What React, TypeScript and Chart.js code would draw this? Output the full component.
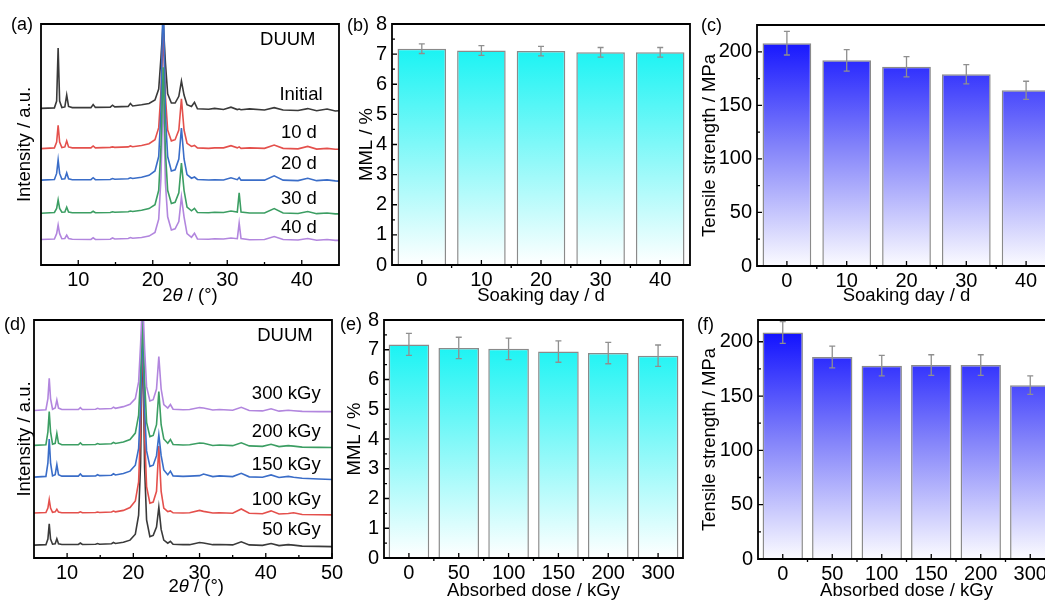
import React, { useEffect, useRef } from "react";
import { Chart, registerables } from "chart.js";

Chart.register(...registerables);

const FONT = '"Liberation Sans", Arial, Helvetica, sans-serif';

// ---------- Panel (a): XRD vs soaking time ----------
const soakTheta = [5, 6.8, 7.1, 7.3, 7.5, 7.8, 8.2, 8.45, 8.7, 9.2, 11.7, 12.0, 12.3, 14.3, 14.6, 14.9, 16.7, 17.0, 17.3, 18.5, 19.5, 20.3, 20.8, 21.1, 21.4, 21.7, 22.0, 22.5, 23.0, 23.5, 23.85, 24.2, 24.6, 25.2, 25.6, 26.0, 27.5, 28.3, 29.5, 30.5, 31.35, 31.6, 31.85, 33.0, 35.0, 36.3, 37.5, 39.5, 40.8, 42.0, 43.4, 44.5, 45];
const xrdInitial = [65.0, 65.2, 68, 90, 68, 65.3, 65.6, 70.5, 65.8, 65.3, 65.3, 66.6, 65.4, 65.5, 66.3, 65.6, 65.8, 67.0, 66.0, 66.5, 67.0, 68.5, 73, 86, 101, 84, 71, 67.2, 67.2, 70, 76.3, 70.5, 66.5, 65.8, 67.5, 64.8, 64.6, 65.0, 64.5, 65.5, 64.5, 64.7, 64.4, 64.8, 64.3, 65.3, 64.3, 64.1, 64.9, 64.0, 64.7, 63.9, 64.0];
const xrd10d = [48.3, 48.6, 51, 58, 51, 48.7, 49, 51.5, 49, 48.6, 48.6, 49.4, 48.6, 48.8, 49.0, 48.8, 49.0, 49.4, 49.1, 49.6, 50.3, 52, 57, 72, 96, 70, 56, 51.5, 52, 56, 69, 56, 50.5, 49.2, 49.6, 48.6, 48.4, 48.6, 48.6, 49.5, 48.6, 49.0, 48.4, 48.6, 48.4, 49.8, 48.4, 48.2, 49.2, 48.1, 48.4, 48.0, 48.0];
const xrd20d = [35.2, 35.5, 38, 43.6, 38, 35.6, 35.8, 38.2, 35.8, 35.4, 35.4, 36.2, 35.4, 35.5, 35.9, 35.6, 35.8, 36.2, 35.9, 36.4, 37.2, 39, 45, 64, 115, 62, 45, 39, 39.5, 44, 56.8, 44, 37.5, 36, 36.5, 35.5, 35.3, 35.4, 35.3, 36.2, 35.4, 36.3, 35.2, 35.3, 35.2, 37.0, 35.2, 35.0, 36.0, 35.0, 35.3, 34.9, 34.8];
const xrd30d = [21.5, 21.8, 23.5, 27, 23.5, 21.9, 22, 24, 22, 21.7, 21.7, 22.3, 21.7, 21.8, 22.1, 21.9, 22.1, 22.4, 22.2, 22.7, 23.4, 25, 31, 49, 82, 47, 31, 25.5, 26, 30, 42.3, 31, 24, 22.5, 23.5, 21.8, 21.7, 21.9, 21.8, 22.4, 22.0, 29.9, 22.0, 21.6, 21.6, 23.4, 21.6, 21.4, 22.2, 21.3, 21.6, 21.2, 21.2];
const xrd40d = [10.6, 10.8, 13, 16.6, 13, 10.9, 11, 12.4, 11, 10.7, 10.6, 11.3, 10.6, 10.7, 11.2, 10.8, 11.0, 11.4, 11.1, 11.4, 12, 13.5, 19, 36, 72, 34, 20, 14.5, 15, 18, 28.2, 20, 13, 11.5, 13.2, 10.8, 10.7, 10.9, 10.8, 11.2, 10.9, 17.4, 11.0, 10.5, 10.6, 11.8, 10.6, 10.4, 11.0, 10.3, 10.6, 10.2, 10.2];
const soakSeriesLabels = ["Initial", "10 d", "20 d", "30 d", "40 d"];

// ---------- Panel (d): XRD vs absorbed dose ----------
const doseTheta = [5, 6.8, 7.1, 7.3, 7.5, 7.8, 8.2, 8.45, 8.7, 9.2, 11.7, 12.0, 12.3, 14.3, 14.6, 14.9, 16.7, 17.0, 17.3, 18.5, 19.5, 20.3, 20.8, 21.1, 21.4, 21.7, 22.0, 22.5, 23.0, 23.5, 23.85, 24.2, 24.6, 25.2, 25.6, 26.0, 27.5, 28.5, 30.0, 30.6, 32.0, 33.0, 35.0, 36.3, 37.5, 39.5, 40.8, 42.0, 43.4, 44.2, 45.5, 48, 50];
const xrd50k = [5.4, 5.6, 8, 14.4, 8, 5.8, 6, 8.1, 6, 5.7, 5.7, 6.3, 5.7, 5.8, 6.1, 5.8, 6.0, 6.5, 6.1, 6.6, 7.5, 10, 18, 40, 100, 38, 16, 9, 9.5, 13, 21.4, 12, 7.5, 6.2, 7.0, 5.8, 5.6, 5.6, 6.5, 6.3, 5.6, 5.7, 5.5, 6.8, 5.5, 5.3, 6.1, 5.2, 5.6, 5.4, 5.0, 4.9, 4.8];
const xrd100k = [18.9, 19.1, 21, 24.5, 21, 19.2, 19.4, 20.5, 19.3, 19.0, 19.0, 19.4, 19.0, 19.1, 19.3, 19.1, 19.3, 19.7, 19.4, 20.0, 21.2, 24, 32, 55, 100, 52, 30, 23, 23.5, 28, 47, 28, 21, 19.5, 19.8, 19.0, 18.9, 19.0, 20.0, 19.6, 18.9, 19.0, 18.8, 20.6, 18.8, 18.6, 19.8, 18.5, 18.7, 19.0, 18.3, 18.2, 18.1];
const xrd150k = [34.0, 34.3, 40, 50, 40, 34.5, 35, 39.2, 35, 34.4, 34.4, 35.3, 34.4, 34.5, 35.0, 34.6, 34.8, 35.4, 34.9, 35.5, 36.5, 39, 46, 65, 100, 62, 45, 38.5, 39, 43, 51.7, 43, 37, 35, 36.5, 34.5, 34.3, 34.4, 34.6, 35.3, 34.2, 34.5, 34.2, 35.6, 34.1, 33.9, 34.9, 33.8, 34.3, 33.9, 33.5, 33.2, 33.0];
const xrd200k = [47.3, 47.6, 53, 61.5, 53, 47.8, 48.2, 52.4, 48.2, 47.6, 47.6, 48.4, 47.6, 47.7, 48.1, 47.8, 48.0, 48.6, 48.1, 48.7, 49.8, 52.5, 60, 78, 100, 75, 57, 51, 51.5, 56, 69.9, 56, 50, 48.2, 49.8, 47.7, 47.5, 47.6, 48.3, 48.2, 47.3, 47.5, 47.2, 48.4, 47.1, 46.9, 47.8, 46.8, 47.2, 47.0, 46.6, 46.5, 46.4];
const xrd300k = [62.0, 62.3, 67, 75.5, 67, 62.5, 63, 66.4, 63, 62.4, 62.4, 63.2, 62.4, 62.5, 62.9, 62.6, 62.8, 63.4, 62.9, 63.6, 64.6, 67, 74, 90, 110, 88, 72, 66, 66.5, 71, 84.6, 71, 64.5, 63, 64.5, 62.5, 62.3, 62.4, 63.2, 63.0, 62.2, 62.4, 62.1, 63.3, 62.0, 61.8, 62.7, 61.7, 62.1, 61.9, 61.6, 61.5, 61.5];
const doseSeriesLabels = ["50 kGy", "100 kGy", "150 kGy", "200 kGy", "300 kGy"];

// ---------- Panels (b),(c): soaking day ----------
const soakDays = ["0", "10", "20", "30", "40"];
const mmlSoak = [7.18, 7.12, 7.1, 7.06, 7.06];
const mmlSoakErr = [0.16, 0.16, 0.16, 0.16, 0.16];
const tsSoak = [208, 192, 186, 179, 164];
const tsSoakErr = [11, 10, 9.5, 9, 8.5];

// ---------- Panels (e),(f): absorbed dose ----------
const doses = ["0", "50", "100", "150", "200", "300"];
const mmlDose = [7.18, 7.06, 7.03, 6.94, 6.89, 6.8];
const mmlDoseErr = [0.37, 0.36, 0.36, 0.36, 0.36, 0.36];
const tsDose = [208.5, 186, 178, 178.5, 178.5, 160];
const tsDoseErr = [10, 10, 9.5, 9.5, 9.5, 8.5];

const COL = {
  black: "#3a3a3a",
  red: "#e4504c",
  blue: "#3a6dc8",
  green: "#3c9e63",
  purple: "#b286de",
};

const decorPlugin = {
  id: "decor",
  afterDatasetsDraw(chart: any, _a: any, o: any) {
    if (!o || !o.errors) return;
    const ctx = chart.ctx;
    const ys = chart.scales.y;
    const vals = chart.data.datasets[0].data as number[];
    const meta = chart.getDatasetMeta(0);
    ctx.save();
    ctx.strokeStyle = "#8f8f8f";
    ctx.lineWidth = 1.3;
    meta.data.forEach((el: any, i: number) => {
      const x = el.x;
      const yh = ys.getPixelForValue(vals[i] + o.errors[i]);
      const yl = ys.getPixelForValue(vals[i] - o.errors[i]);
      ctx.beginPath();
      ctx.moveTo(x, yl);
      ctx.lineTo(x, yh);
      ctx.moveTo(x - 3, yh);
      ctx.lineTo(x + 3, yh);
      ctx.moveTo(x - 3, yl);
      ctx.lineTo(x + 3, yl);
      ctx.stroke();
    });
    ctx.restore();
  },
  afterDraw(chart: any, _a: any, o: any) {
    if (!o || !o.frame) return;
    const { ctx, chartArea: a, scales } = chart;
    const xs = scales.x;
    const ys = scales.y;
    ctx.save();
    ctx.strokeStyle = "#000";
    ctx.lineWidth = 1.8;
    ctx.beginPath();
    ctx.moveTo(a.left, a.bottom);
    ctx.lineTo(a.left, a.top);
    ctx.lineTo(a.right, a.top);
    ctx.lineTo(a.right, a.bottom);
    ctx.closePath();
    ctx.stroke();
    ctx.lineWidth = 1.3;
    ctx.beginPath();
    (o.xMajor || []).forEach((v: number) => {
      const p = xs.getPixelForValue(v);
      ctx.moveTo(p, a.bottom);
      ctx.lineTo(p, a.bottom - 5);
    });
    (o.xMinor || []).forEach((v: number) => {
      const p = xs.getPixelForValue(v);
      ctx.moveTo(p, a.bottom);
      ctx.lineTo(p, a.bottom + (o.xMinorOut ? 3 : -3));
    });
    (o.yMajor || []).forEach((v: number) => {
      const p = ys.getPixelForValue(v);
      ctx.moveTo(a.left, p);
      ctx.lineTo(a.left + 5, p);
    });
    (o.yMinor || []).forEach((v: number) => {
      const p = ys.getPixelForValue(v);
      ctx.moveTo(a.left, p);
      ctx.lineTo(a.left + 3, p);
    });
    ctx.stroke();

    ctx.fillStyle = "#000";
    ctx.textBaseline = "middle";
    (o.texts || []).forEach((t: any) => {
      ctx.font = `${t.size || 18.5}px ${FONT}`;
      ctx.textAlign = t.align || "left";
      ctx.fillText(t.text, xs.getPixelForValue(t.x), ys.getPixelForValue(t.y));
    });
    if (o.panel) {
      ctx.font = `18px ${FONT}`;
      ctx.textAlign = "left";
      ctx.fillText(o.panel.text, o.panel.x, o.panel.y);
    }
    if (o.theta) {
      const parts: [string, boolean][] = [["2", false], ["θ", true], [" / (°)", false]];
      const fs = 18.5;
      let total = 0;
      const widths = parts.map(([s, it]) => {
        ctx.font = `${it ? "italic " : ""}${fs}px ${FONT}`;
        const w = ctx.measureText(s).width;
        total += w;
        return w;
      });
      let x = xs.getPixelForValue(o.theta.x) - total / 2;
      ctx.textAlign = "left";
      parts.forEach(([s, it], i) => {
        ctx.font = `${it ? "italic " : ""}${fs}px ${FONT}`;
        ctx.fillText(s, x, o.theta.y);
        x += widths[i];
      });
    }
    ctx.restore();
  },
};
Chart.register(decorPlugin);

const tickFont = { family: FONT, size: 20 };
const titleFont = { family: FONT, size: 18.5 };

function xrdConfig(p: any) {
  return {
    type: "line",
    data: {
      datasets: p.series.map((s: any) => ({
        data: p.xs.map((x: number, i: number) => ({ x, y: s.data[i] })),
        borderColor: s.color,
        borderWidth: 1.6,
        pointRadius: 0,
        tension: 0,
        fill: false,
        order: s.order,
      })),
    },
    options: {
      responsive: false,
      animation: false,
      events: [],
      layout: { padding: { top: p.padTop, right: p.padRight, left: 0, bottom: 0 } },
      plugins: {
        legend: { display: false },
        tooltip: { enabled: false },
        decor: {
          frame: true,
          xMajor: p.xMajor,
          xMinor: p.xMinor,
          texts: p.texts,
          panel: p.panel,
          theta: p.theta,
        },
      },
      scales: {
        x: {
          type: "linear",
          min: 5,
          max: p.xMax,
          grid: { display: false, drawTicks: false },
          border: { display: false },
          afterBuildTicks: (s: any) => {
            s.ticks = p.xMajor.map((v: number) => ({ value: v }));
          },
          afterFit: (s: any) => {
            s.height = p.xH;
          },
          ticks: { font: tickFont, color: "#000", padding: 3, maxRotation: 0, autoSkip: false },
        },
        y: {
          type: "linear",
          min: 0,
          max: 100,
          grid: { display: false, drawTicks: false },
          border: { display: false },
          ticks: { display: false },
          afterFit: (s: any) => {
            s.width = p.yW;
          },
          title: {
            display: true,
            text: "Intensity / a.u.",
            font: titleFont,
            color: "#000",
            padding: { top: p.yTitlePad, bottom: 0 },
          },
        },
      },
    },
  };
}

function barConfig(p: any) {
  const n = p.labels.length;
  const boundaries: number[] = [];
  for (let i = 0; i < n - 1; i++) boundaries.push(i + 0.5);
  return {
    type: "bar",
    data: {
      labels: p.labels,
      datasets: [
        {
          data: p.values,
          backgroundColor: (c: any) => {
            const a = c.chart.chartArea;
            if (!a) return p.gTop;
            const g = c.chart.ctx.createLinearGradient(0, a.top, 0, a.bottom);
            g.addColorStop(0, p.gTop);
            g.addColorStop(0.5, p.gMid);
            g.addColorStop(1, p.gBottom);
            return g;
          },
          borderColor: "#8a8a8a",
          borderWidth: { left: 1.5, right: 1.5, top: 1.5, bottom: 0 },
          borderSkipped: "bottom",
          categoryPercentage: 1,
          barPercentage: 0.815,
        },
      ],
    },
    options: {
      responsive: false,
      animation: false,
      events: [],
      layout: { padding: { top: p.padTop, right: p.padRight, left: 0, bottom: 0 } },
      plugins: {
        legend: { display: false },
        tooltip: { enabled: false },
        decor: {
          frame: true,
          errors: p.errors,
          xMajor: p.labels.map((_: any, i: number) => i),
          xMinor: boundaries,
          xMinorOut: true,
          yMajor: p.yMajor,
          yMinor: p.yMinor,
          panel: p.panel,
        },
      },
      scales: {
        x: {
          type: "category",
          offset: true,
          grid: { display: false, drawTicks: false },
          border: { display: false },
          afterFit: (s: any) => {
            s.height = p.xH;
          },
          ticks: { font: tickFont, color: "#000", padding: 3, maxRotation: 0, autoSkip: false },
          title: {
            display: true,
            text: p.xTitle,
            font: titleFont,
            color: "#000",
            padding: { top: 0, bottom: p.xTitlePad },
          },
        },
        y: {
          type: "linear",
          min: 0,
          max: p.yMax,
          grid: { display: false, drawTicks: false },
          border: { display: false },
          afterBuildTicks: (s: any) => {
            s.ticks = p.yMajor.map((v: number) => ({ value: v }));
          },
          afterFit: (s: any) => {
            s.width = p.yW;
          },
          ticks: { font: tickFont, color: "#000", padding: 5 },
          title: {
            display: true,
            text: p.yTitle,
            font: titleFont,
            color: "#000",
            padding: { top: p.yTitlePad, bottom: 0 },
          },
        },
      },
    },
  };
}

const range = (a: number, b: number, s: number) => {
  const out: number[] = [];
  for (let v = a; v <= b + 1e-9; v += s) out.push(Math.round(v * 100) / 100);
  return out;
};

const panels = [
  {
    key: "a",
    left: 0,
    top: 0,
    width: 352,
    height: 310,
    config: () =>
      xrdConfig({
        xs: soakTheta,
        xMax: 45,
        xMajor: [10, 20, 30, 40],
        xMinor: [15, 25, 35],
        series: [
          { data: xrdInitial, color: COL.black, order: 3 },
          { data: xrd10d, color: COL.red, order: 2 },
          { data: xrd20d, color: COL.blue, order: 1 },
          { data: xrd30d, color: COL.green, order: 0 },
          { data: xrd40d, color: COL.purple, order: 4 },
        ],
        yW: 41,
        xH: 45,
        padTop: 24,
        padRight: 13,
        yTitlePad: 13.9,
        texts: [
          { text: "DUUM", x: 34.4, y: 93.4 },
          { text: soakSeriesLabels[0], x: 37, y: 70.5 },
          { text: soakSeriesLabels[1], x: 37.2, y: 55 },
          { text: soakSeriesLabels[2], x: 37.2, y: 41.8 },
          { text: soakSeriesLabels[3], x: 37.2, y: 27.3 },
          { text: soakSeriesLabels[4], x: 37.2, y: 15.4 },
        ],
        panel: { text: "(a)", x: 11, y: 25 },
        theta: { x: 25, y: 296 },
      }),
  },
  {
    key: "b",
    left: 342,
    top: 0,
    width: 352,
    height: 310,
    config: () =>
      barConfig({
        labels: soakDays,
        values: mmlSoak,
        errors: mmlSoakErr,
        gTop: "#00f2f2",
        gMid: "#7ff8f8",
        gBottom: "#ffffff",
        yMax: 8,
        yMajor: range(0, 8, 1),
        yMinor: range(0.5, 7.5, 1),
        yW: 50,
        xH: 45,
        padTop: 24,
        padRight: 4,
        yTitle: "MML / %",
        yTitlePad: 13.6,
        xTitle: "Soaking day / d",
        xTitlePad: 2.9,
        panel: { text: "(b)", x: 5, y: 26 },
      }),
  },
  {
    key: "c",
    left: 690,
    top: 0,
    width: 380,
    height: 310,
    config: () =>
      barConfig({
        labels: soakDays,
        values: tsSoak,
        errors: tsSoakErr,
        gTop: "#0505ff",
        gMid: "#8282fa",
        gBottom: "#fbfbff",
        yMax: 225,
        yMajor: [0, 50, 100, 150, 200],
        yMinor: [25, 75, 125, 175],
        yW: 67,
        xH: 44,
        padTop: 25,
        padRight: 14,
        yTitle: "Tensile strength / MPa",
        yTitlePad: 8.9,
        xTitle: "Soaking day / d",
        xTitlePad: 2.9,
        panel: { text: "(c)", x: 11, y: 26 },
      }),
  },
  {
    key: "d",
    left: 0,
    top: 298,
    width: 352,
    height: 305,
    config: () =>
      xrdConfig({
        xs: doseTheta,
        xMax: 50,
        xMajor: [10, 20, 30, 40, 50],
        xMinor: [15, 25, 35, 45],
        series: [
          { data: xrd50k, color: COL.black, order: 4 },
          { data: xrd100k, color: COL.red, order: 3 },
          { data: xrd150k, color: COL.blue, order: 2 },
          { data: xrd200k, color: COL.green, order: 1 },
          { data: xrd300k, color: COL.purple, order: 0 },
        ],
        yW: 34,
        xH: 45,
        padTop: 22,
        padRight: 20,
        yTitlePad: 13.9,
        texts: [
          { text: "DUUM", x: 38.7, y: 93.3 },
          { text: doseSeriesLabels[4], x: 48.3, y: 68.9, align: "right" },
          { text: doseSeriesLabels[3], x: 48.3, y: 53.1, align: "right" },
          { text: doseSeriesLabels[2], x: 48.3, y: 39.2, align: "right" },
          { text: doseSeriesLabels[1], x: 48.3, y: 24.5, align: "right" },
          { text: doseSeriesLabels[0], x: 48.3, y: 11.9, align: "right" },
        ],
        panel: { text: "(d)", x: 4, y: 27 },
        theta: { x: 29.5, y: 289 },
      }),
  },
  {
    key: "e",
    left: 340,
    top: 298,
    width: 350,
    height: 305,
    config: () =>
      barConfig({
        labels: doses,
        values: mmlDose,
        errors: mmlDoseErr,
        gTop: "#00f2f2",
        gMid: "#7ff8f8",
        gBottom: "#ffffff",
        yMax: 8,
        yMajor: range(0, 8, 1),
        yMinor: range(0.5, 7.5, 1),
        yW: 44,
        xH: 45,
        padTop: 22,
        padRight: 7,
        yTitle: "MML / %",
        yTitlePad: 3.9,
        xTitle: "Absorbed dose / kGy",
        xTitlePad: 0.9,
        panel: { text: "(e)", x: 0, y: 27 },
      }),
  },
  {
    key: "f",
    left: 690,
    top: 298,
    width: 380,
    height: 305,
    config: () =>
      barConfig({
        labels: doses,
        values: tsDose,
        errors: tsDoseErr,
        gTop: "#0505ff",
        gMid: "#8282fa",
        gBottom: "#fbfbff",
        yMax: 220,
        yMajor: [0, 50, 100, 150, 200],
        yMinor: [25, 75, 125, 175],
        yW: 68,
        xH: 44,
        padTop: 22,
        padRight: 15,
        yTitle: "Tensile strength / MPa",
        yTitlePad: 8.4,
        xTitle: "Absorbed dose / kGy",
        xTitlePad: 0.9,
        panel: { text: "(f)", x: 7, y: 27 },
      }),
  },
];

function ChartCanvas({ spec }: { spec: any }) {
  const ref = useRef<HTMLCanvasElement>(null);
  useEffect(() => {
    const chart = new Chart(ref.current as HTMLCanvasElement, spec.config() as any);
    return () => chart.destroy();
  }, []);
  return (
    <canvas
      ref={ref}
      width={spec.width}
      height={spec.height}
      style={{
        position: "absolute",
        left: spec.left,
        top: spec.top,
        width: spec.width,
        height: spec.height,
      }}
    />
  );
}

export default function App() {
  return (
    <div
      style={{
        position: "absolute",
        left: 0,
        top: 0,
        width: 1045,
        height: 603,
        overflow: "hidden",
        background: "#fff",
      }}
    >
      {panels.map((p) => (
        <ChartCanvas key={p.key} spec={p} />
      ))}
    </div>
  );
}
